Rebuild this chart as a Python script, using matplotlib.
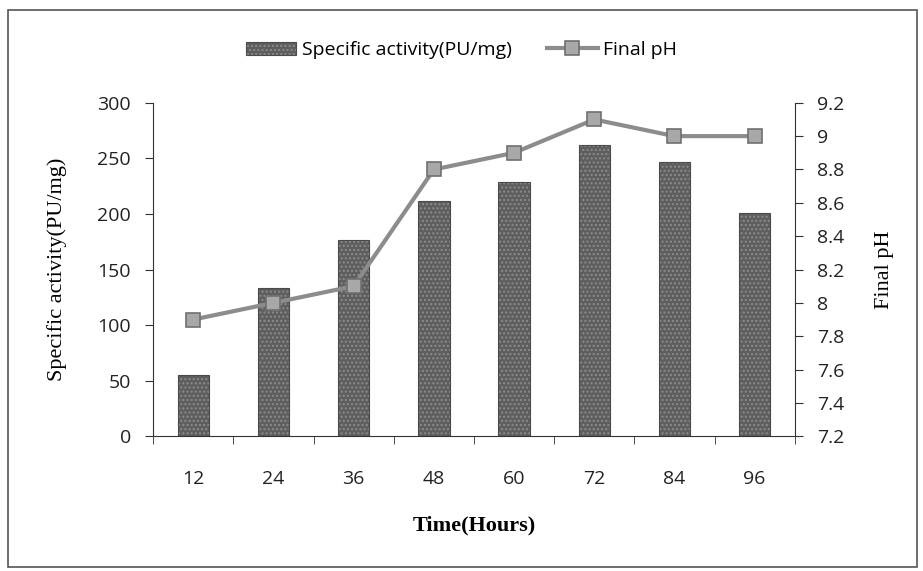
import matplotlib
matplotlib.use("Agg")
import matplotlib.pyplot as plt
from matplotlib.patches import Rectangle
import numpy as np

hours = ["12", "24", "36", "48", "60", "72", "84", "96"]
specific_activity = [55, 133, 177, 212, 229, 262, 247, 201]
final_ph = [7.9, 8.0, 8.1, 8.8, 8.9, 9.1, 9.0, 9.0]
left_ticks = [0, 50, 100, 150, 200, 250, 300]
right_ticks = [7.2, 7.4, 7.6, 7.8, 8.0, 8.2, 8.4, 8.6, 8.8, 9.0, 9.2]

tick_font = "Open Sans"
label_font = "Liberation Serif"

fig = plt.figure(figsize=(9.23, 5.71), dpi=100)
ax = fig.add_axes([0.166, 0.236, 0.695, 0.584])
x = np.arange(len(hours))

bars = ax.bar(x, specific_activity, width=0.39, color="#5e5e5e",
              edgecolor="#4a4a4a", linewidth=0.8, hatch="....",
              label="Specific activity(PU/mg)", zorder=2)
for b in bars:
    b._hatch_color = (0.55, 0.55, 0.55, 1)

ax.set_xlim(-0.5, len(hours) - 0.5)
ax.set_ylim(0, 300)
ax.set_yticks(left_ticks)
ax.set_xticks(x)
ax.set_xticklabels(hours)
ax.set_xticks(np.arange(-0.5, len(hours), 1.0), minor=True)
ax.tick_params(axis="x", which="major", length=0, pad=24)
ax.tick_params(axis="x", which="minor", length=6, direction="out", color="#333")
ax.tick_params(axis="y", length=6, direction="out", color="#333", pad=10)
for lbl in ax.get_xticklabels() + ax.get_yticklabels():
    lbl.set_fontfamily(tick_font)
    lbl.set_fontsize(14)
    lbl.set_color("#222")
ax.spines["top"].set_visible(False)
ax.spines["right"].set_visible(False)
ax.spines["left"].set_color("#333")
ax.spines["bottom"].set_color("#333")
ax.set_ylabel("Specific activity(PU/mg)", fontfamily=label_font,
              fontsize=16, labelpad=22)
ax.set_xlabel("Time(Hours)", fontfamily=label_font, fontsize=16,
              fontweight="bold", labelpad=20)

ax2 = ax.twinx()
line, = ax2.plot(x, final_ph, color="#8c8c8c", linewidth=3,
                 marker="s", markersize=10, markerfacecolor="#a8a8a8",
                 markeredgecolor="#707070", markeredgewidth=1.2,
                 label="Final pH", zorder=3)
ax2.set_ylim(7.2, 9.2)
ax2.set_yticks(right_ticks)
ax2.set_yticklabels([f"{v:g}" for v in right_ticks])
ax2.tick_params(axis="y", length=6, direction="out", color="#333", pad=10)
for lbl in ax2.get_yticklabels():
    lbl.set_fontfamily(tick_font)
    lbl.set_fontsize(14)
    lbl.set_color("#222")
for s in ["top", "left", "bottom"]:
    ax2.spines[s].set_visible(False)
ax2.spines["right"].set_color("#333")
ax2.set_ylabel("Final pH", fontfamily=label_font, fontsize=16, labelpad=22)

fig.legend([bars, line], ["Specific activity(PU/mg)", "Final pH"],
           loc="center", bbox_to_anchor=(0.5, 0.912), ncol=2, frameon=False,
           prop={"family": tick_font, "size": 14}, handlelength=2.6,
           columnspacing=1.8, handletextpad=0.3)

fig.patches.append(Rectangle((0.009, 0.007), 0.985, 0.975,
                             transform=fig.transFigure, fill=False,
                             edgecolor="#555", linewidth=1.2))

fig.savefig("out.png", dpi=100, facecolor="white")
